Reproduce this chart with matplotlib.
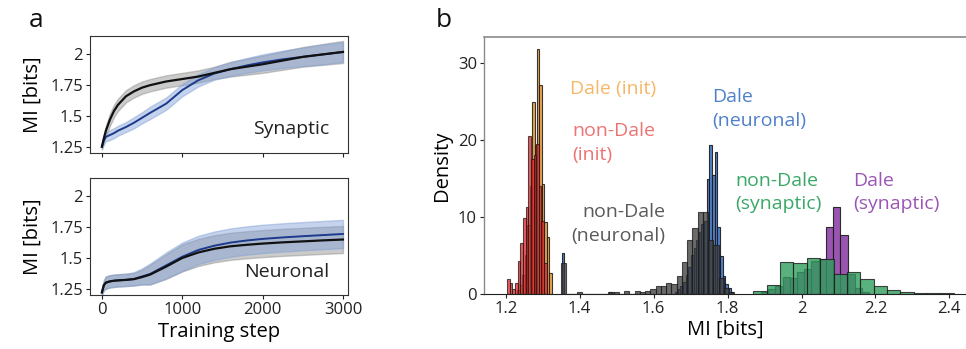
import matplotlib
matplotlib.use('Agg')
import matplotlib.pyplot as plt
import numpy as np

plt.rcParams['font.family'] = ['Open Sans', 'DejaVu Sans']

# ---- panel a: MI over training ----
steps = [0, 25, 50, 100, 150, 200, 300, 400, 500, 600, 800, 1000, 1200,
         1400, 1600, 1800, 2000, 2250, 2500, 2750, 3000]

syn_nondale = [1.25, 1.32, 1.38, 1.47, 1.54, 1.59, 1.66, 1.70, 1.73, 1.75, 1.78,
               1.80, 1.82, 1.85, 1.88, 1.90, 1.92, 1.95, 1.98, 2.00, 2.02]
syn_nondale_sd = [0.02, 0.03, 0.04, 0.05, 0.05, 0.05, 0.05, 0.05, 0.05, 0.05, 0.05,
                  0.05, 0.05, 0.05, 0.06, 0.065, 0.07, 0.075, 0.08, 0.085, 0.09]
syn_dale = [1.25, 1.30, 1.33, 1.345, 1.36, 1.38, 1.41, 1.445, 1.485, 1.525, 1.60,
            1.71, 1.79, 1.845, 1.88, 1.91, 1.935, 1.96, 1.98, 2.00, 2.02]
syn_dale_sd = [0.02, 0.03, 0.035, 0.04, 0.04, 0.04, 0.04, 0.045, 0.045, 0.05, 0.05,
               0.05, 0.05, 0.05, 0.055, 0.06, 0.065, 0.07, 0.075, 0.08, 0.08]

neu_nondale = [1.22, 1.28, 1.30, 1.31, 1.315, 1.318, 1.322, 1.328, 1.345, 1.365, 1.43,
               1.50, 1.545, 1.575, 1.595, 1.607, 1.617, 1.627, 1.635, 1.643, 1.65]
neu_nondale_sd = [0.02, 0.04, 0.05, 0.05, 0.05, 0.05, 0.05, 0.05, 0.06, 0.08, 0.10,
                  0.11, 0.11, 0.11, 0.11, 0.11, 0.11, 0.11, 0.11, 0.11, 0.11]
neu_dale = [1.22, 1.28, 1.30, 1.31, 1.315, 1.318, 1.322, 1.33, 1.35, 1.37, 1.44,
            1.51, 1.565, 1.60, 1.625, 1.642, 1.655, 1.667, 1.677, 1.686, 1.695]
neu_dale_sd = [0.02, 0.04, 0.05, 0.05, 0.05, 0.05, 0.05, 0.055, 0.065, 0.085, 0.105,
               0.115, 0.115, 0.115, 0.115, 0.115, 0.115, 0.115, 0.115, 0.115, 0.115]

# ---- panel b: histograms (left edge of first bin, bin width, densities) ----
dale_init_start, dale_init_w = 1.2311, 0.00666
dale_init = [0.5, 1.2, 2.5, 5.0, 9.0, 14.0, 24.9, 19.4, 31.9, 27.1, 14.3, 9.4, 7.4, 2.7]

nondale_init_start, nondale_init_w = 1.203, 0.0072
nondale_init = [1.9, 1.4, 0.6, 1.4, 4.3, 6.6, 9.9, 11.3, 20.5, 17.5, 18.1, 19.5,
                14.0, 9.5, 4.0]

dale_neu_start, dale_neu_w = 1.351, 0.00714
dale_neu = ([5.3] + [0] * 17 + [0.3] + [0] * 24 +
            [0.3, 0.6, 1.0, 1.5, 2.5, 3.5, 5.0, 6.0, 7.0, 8.0, 9.1, 9.5, 14.9,
             19.3, 15.5, 18.4, 8.7, 4.9, 2.3, 1.3, 0.8, 0.3])

nondale_neu_start, nondale_neu_w = 1.350, 0.0142
nondale_neu = [4.0, 0, 0, 0.2, 0, 0, 0, 0, 0, 0.3, 0.2, 0, 0.4, 0, 0.4, 0.2, 0.4,
               0.6, 1.0, 1.0, 1.4, 1.3, 2.3, 4.2, 7.0, 8.6, 10.6, 10.6, 7.0, 6.4,
               2.0, 0.8, 0.2]

dale_syn_start, dale_syn_w = 1.8905, 0.0195
dale_syn = [0.3, 0.6, 1.0, 2.2, 2.0, 2.9, 3.2, 4.3, 4.5, 8.7, 11.3, 7.7, 2.6, 0.8, 0.3]

nondale_syn_start, nondale_syn_w = 1.870, 0.0361
nondale_syn = [0.35, 1.1, 4.2, 4.0, 4.7, 4.5, 2.6, 2.9, 1.9, 1.0, 0.5, 0.3, 0.1, 0.1, 0.1]

tick_col = '#222222'


def curve_panel(ax, mean_a, sd_a, mean_b, sd_b, name):
    x = np.array(steps)
    for m, s, fc in [(mean_a, sd_a, '#8c8c8c'), (mean_b, sd_b, '#7f9fd6')]:
        m = np.array(m)
        s = np.array(s)
        ax.fill_between(x, m - s, m + s, color=fc, alpha=0.45, lw=1, edgecolor=fc)
    ax.plot(x, mean_b, color='#1d3a8c', lw=1.4)
    ax.plot(x, mean_a, color='#111111', lw=1.6)
    ax.set_xlim(-150, 3060)
    ax.set_ylim(1.2, 2.15)
    ax.set_yticks([1.25, 1.5, 1.75, 2])
    ax.set_yticklabels(['1.25', '1.5', '1.75', '2'])
    ax.set_xticks([0, 1000, 2000, 3000])
    ax.set_ylabel('MI [bits]', fontsize=14.5, labelpad=5)
    ax.tick_params(labelsize=12, colors=tick_col, length=3, width=0.8, pad=2)
    for sp in ax.spines.values():
        sp.set_linewidth(0.8)
        sp.set_color('#333333')
    ax.text(0.93, 0.2, name, transform=ax.transAxes, ha='right', va='center',
            fontsize=14, color='#222222')


fig = plt.figure(figsize=(9.66, 3.49), dpi=100)

ax1 = fig.add_axes([0.093, 0.562, 0.267, 0.335])
curve_panel(ax1, syn_nondale, syn_nondale_sd, syn_dale, syn_dale_sd, 'Synaptic')
ax1.set_xticklabels([])

ax2 = fig.add_axes([0.093, 0.155, 0.267, 0.335])
curve_panel(ax2, neu_nondale, neu_nondale_sd, neu_dale, neu_dale_sd, 'Neuronal')
ax2.set_xticklabels(['0', '1000', '2000', '3000'])
ax2.set_xlabel('Training step', fontsize=14.5, labelpad=3)

# ---- panel b ----
ax3 = fig.add_axes([0.501, 0.158, 0.499, 0.736])


def hist(ax, start, w, vals, color, alpha):
    edges = start + w * np.arange(len(vals))
    ax.bar(edges, vals, width=w, align='edge', color=color, alpha=alpha,
           edgecolor='#1a1a1a', linewidth=0.8)


hist(ax3, dale_init_start, dale_init_w, dale_init, '#e8962e', 0.85)
hist(ax3, nondale_init_start, nondale_init_w, nondale_init, '#e5272b', 0.75)
hist(ax3, dale_neu_start, dale_neu_w, dale_neu, '#3f74c4', 0.9)
hist(ax3, nondale_neu_start, nondale_neu_w, nondale_neu, '#3a3a3a', 0.75)
hist(ax3, dale_syn_start, dale_syn_w, dale_syn, '#8e44a8', 0.9)
hist(ax3, nondale_syn_start, nondale_syn_w, nondale_syn, '#2f9e5c', 0.8)

ax3.set_xlim(1.141, 2.445)
ax3.set_ylim(0, 33.4)
ax3.set_xticks([1.2, 1.4, 1.6, 1.8, 2.0, 2.2, 2.4])
ax3.set_xticklabels(['1.2', '1.4', '1.6', '1.8', '2', '2.2', '2.4'])
ax3.set_yticks([0, 10, 20, 30])
ax3.set_xlabel('MI [bits]', fontsize=14.5, labelpad=2)
ax3.set_ylabel('Density', fontsize=14.5, labelpad=4)
ax3.tick_params(labelsize=12, colors=tick_col, length=3, width=0.8, pad=2)
ax3.spines['right'].set_visible(False)
ax3.spines['left'].set_color('#8a8a8a')
ax3.spines['top'].set_color('#8a8a8a')
ax3.spines['left'].set_linewidth(1.0)
ax3.spines['top'].set_linewidth(1.2)
ax3.spines['bottom'].set_color('#222222')

fs = 14
ls = 1.4
ax3.text(1.374, 26.6, 'Dale (init)', color='#f6b767', fontsize=fs, va='center')
ax3.text(1.379, 19.6, 'non-Dale\n(init)', color='#ee7373', fontsize=fs,
         va='center', linespacing=ls)
ax3.text(1.631, 9.05, 'non-Dale\n(neuronal)', color='#5a5a5a', fontsize=fs,
         va='center', ha='right', linespacing=ls)
ax3.text(1.759, 24.0, 'Dale\n(neuronal)', color='#4f80c8', fontsize=fs,
         va='center', linespacing=ls)
ax3.text(1.820, 13.2, 'non-Dale\n(synaptic)', color='#3aa868', fontsize=fs,
         va='center', linespacing=ls)
ax3.text(2.139, 13.2, 'Dale\n(synaptic)', color='#9b55b5', fontsize=fs,
         va='center', linespacing=ls)

fig.text(0.03, 0.94, 'a', fontsize=19, color='#111111', va='center')
fig.text(0.451, 0.94, 'b', fontsize=19, color='#111111', va='center')

fig.savefig('out.png', dpi=100)
